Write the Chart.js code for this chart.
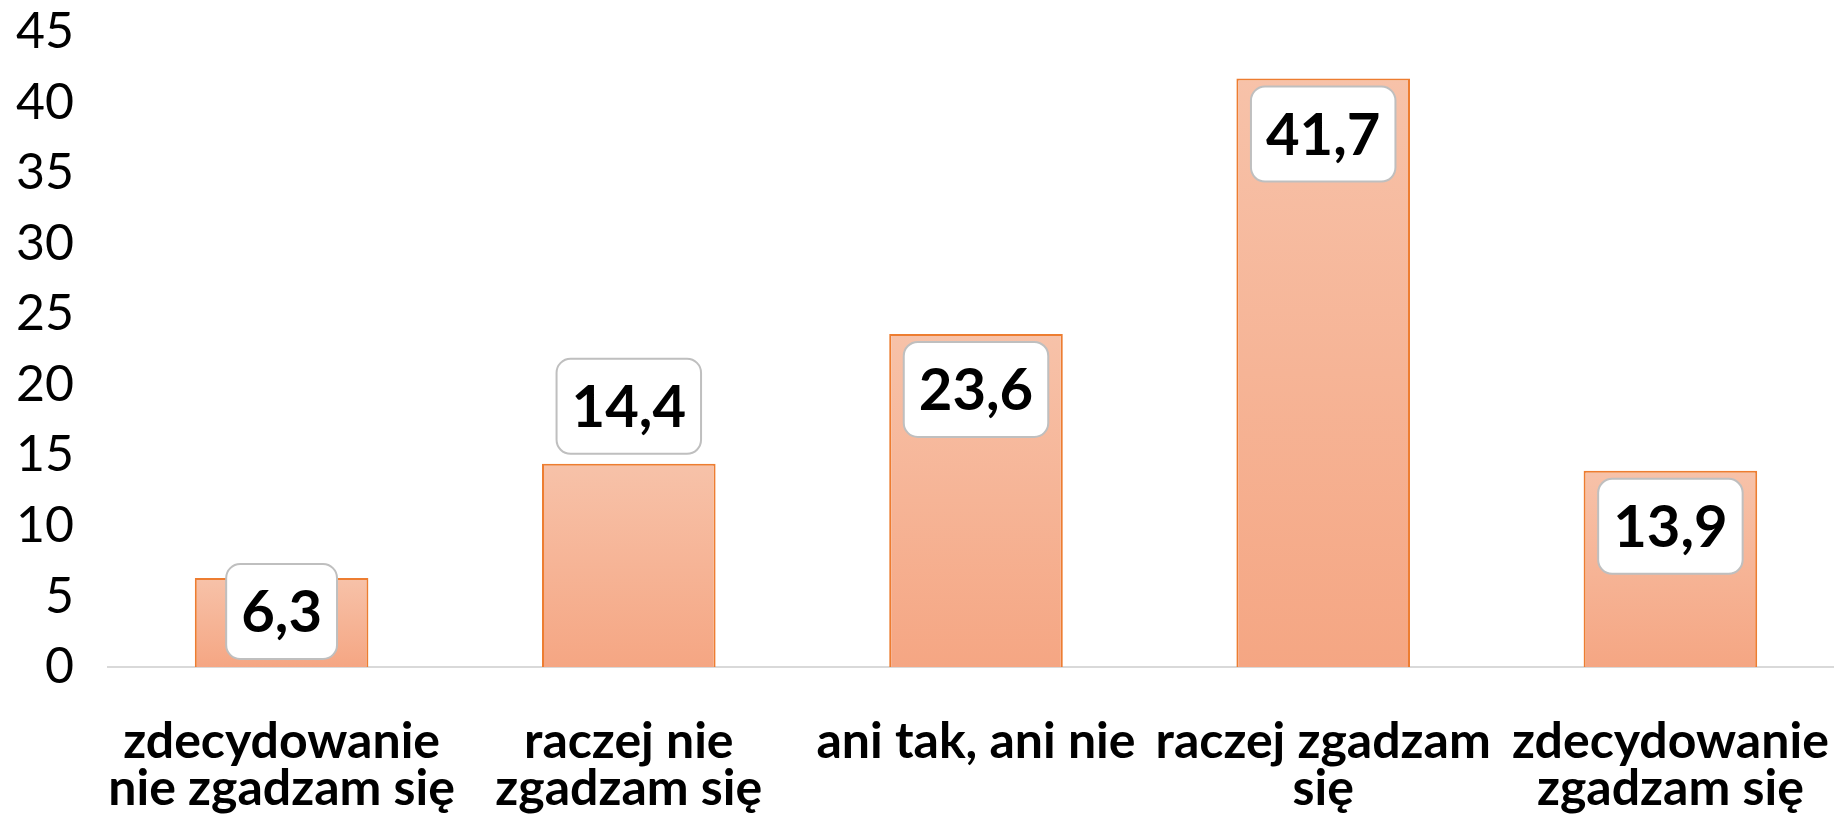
<!DOCTYPE html>
<html>
<head>
<meta charset="utf-8">
<script src="https://cdn.jsdelivr.net/npm/chart.js@4"></script>
<style>
  html, body { margin: 0; padding: 0; background: #fff; overflow: hidden; }
  #wrap { width: 1844px; height: 827px; }
</style>
</head>
<body>
<div id="wrap"><canvas id="chart" width="1844" height="827"></canvas></div>
<script>
// data
const categories = [
  ["zdecydowanie", "nie zgadzam się"],
  ["raczej nie", "zgadzam się"],
  ["ani tak, ani nie"],
  ["raczej zgadzam", "się"],
  ["zdecydowanie", "zgadzam się"],
];
const values = [6.3, 14.4, 23.6, 41.7, 13.9];
const yTicks = [0, 5, 10, 15, 20, 25, 30, 35, 40, 45];
// where Excel put each label: inside end of bar or above it
const labelPlacement = ["inside", "outside", "inside", "inside", "inside"];

const FONT = "Lato";

// white rounded value boxes like the Excel data labels
const valueBoxes = {
  id: "valueBoxes",
  afterDatasetsDraw(chart) {
    const { ctx } = chart;
    const meta = chart.getDatasetMeta(0);
    ctx.save();
    ctx.font = "bold 58px " + FONT;
    ctx.textAlign = "center";
    ctx.textBaseline = "middle";
    meta.data.forEach((bar, i) => {
      const text = String(values[i]).replace(".", ",");
      const w = ctx.measureText(text).width + 30;
      const h = 95;
      let top;
      if (labelPlacement[i] === "outside") {
        top = bar.y - 10 - h;
      } else {
        top = Math.min(bar.y + 8, bar.base - 8 - h);
      }
      const left = bar.x - w / 2;
      ctx.beginPath();
      ctx.roundRect(left, top, w, h, 14);
      ctx.fillStyle = "#ffffff";
      ctx.fill();
      ctx.lineWidth = 2;
      ctx.strokeStyle = "#BFBFBF";
      ctx.stroke();
      ctx.fillStyle = "#000000";
      ctx.fillText(text, bar.x, top + h / 2 + 2);
    });
    ctx.restore();
  },
};

new Chart(document.getElementById("chart"), {
  type: "bar",
  data: {
    labels: categories,
    datasets: [
      {
        data: values,
        backgroundColor: (c) => {
          const chart = c.chart;
          if (!chart.chartArea || c.type !== "data") return "#F5B08F";
          const y = chart.scales.y;
          const g = chart.ctx.createLinearGradient(
            0, y.getPixelForValue(c.raw), 0, y.getPixelForValue(0)
          );
          g.addColorStop(0, "#F7C2A9");
          g.addColorStop(1, "#F5A683");
          return g;
        },
        borderColor: "#ED7D31",
        borderWidth: 2,
        borderSkipped: "bottom",
        categoryPercentage: 1,
        barPercentage: 0.5,
      },
    ],
  },
  options: {
    responsive: false,
    animation: false,
    layout: { padding: { top: 32, right: 0, left: 0, bottom: 0 } },
    scales: {
      x: {
        grid: { display: false, drawTicks: false },
        border: { display: true, color: "#D9D9D9", width: 2 },
        ticks: {
          color: "#000",
          padding: 51,
          maxRotation: 0,
          autoSkip: false,
          font: { family: FONT, size: 50, weight: "bold", lineHeight: 0.94 },
        },
        afterFit: (scale) => {
          scale.height = 160;
          scale.paddingLeft = 0;
          scale.paddingRight = 0;
        },
      },
      y: {
        min: 0,
        max: 45,
        afterBuildTicks: (scale) => {
          scale.ticks = yTicks.map((v) => ({ value: v }));
        },
        grid: { display: false, drawTicks: false },
        border: { display: false },
        ticks: {
          color: "#000",
          padding: 34,
          font: { family: FONT, size: 50 },
        },
        afterFit: (scale) => {
          scale.width = 108;
          scale.paddingTop = 0;
          scale.paddingBottom = 0;
        },
      },
    },
    plugins: {
      legend: { display: false },
      tooltip: { enabled: false },
    },
  },
  plugins: [valueBoxes],
});
</script>
</body>
</html>
